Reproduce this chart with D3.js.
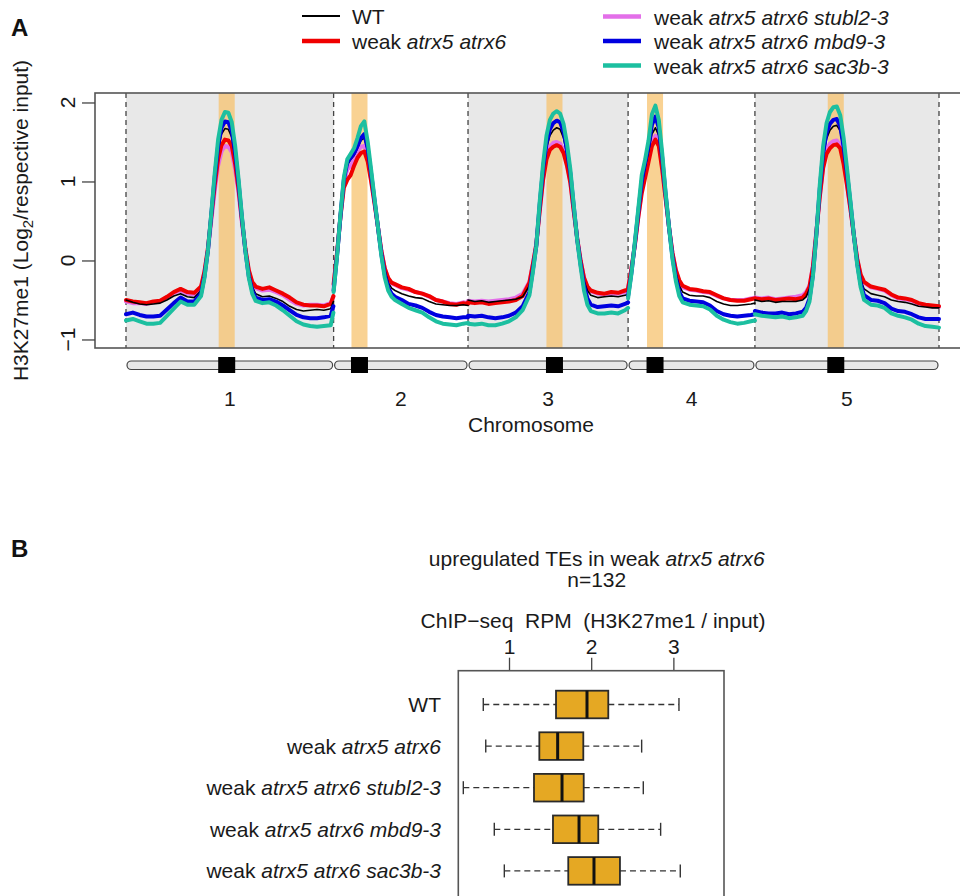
<!DOCTYPE html>
<html>
<head>
<meta charset="utf-8">
<script src="https://cdn.jsdelivr.net/npm/d3@7"></script>
<style>
  body { margin: 0; background: #fff; }
  svg { display: block; font-family: "Liberation Sans", Arial, Helvetica, sans-serif; }
</style>
</head>
<body>
<svg id="fig" width="960" height="896"></svg>
<script>
// ---------------- data: genome-wide H3K27me1 profile ----------------
const chromosomes = ["1", "2", "3", "4", "5"];
const chromLengthMb = [30.43, 19.70, 23.46, 18.59, 26.98];
const centromereMb = [14.76, 3.79, 12.67, 3.95, 11.85];
const yTicks = [-1, 0, 1, 2];

const seriesNames = [
  "WT",
  "weak atrx5 atrx6",
  "weak atrx5 atrx6 stubl2-3",
  "weak atrx5 atrx6 mbd9-3",
  "weak atrx5 atrx6 sac3b-3"
];

// window positions (Mb) per chromosome
const binMb = [
  [0,1,2,3,4,5,6,7,8,9,10,11,11.5,12,12.5,13,13.5,14,14.5,15,15.5,16,16.5,17,17.5,18,18.5,19,20,21,22,23,24,25,26,27,28,29,30,30.4],
  [0,0.5,1,1.5,2,2.5,3,3.5,4,4.5,5,5.5,6,6.5,7,7.5,8,8.5,9,10,11,12,13,14,15,16,17,18,19,19.7],
  [0,1,2,3,4,5,6,7,8,9,9.5,10,10.5,11,11.5,12,12.5,13,13.5,14,14.5,15,15.5,16,16.5,17,17.5,18,19,20,21,22,23,23.46],
  [0,0.5,1,1.5,2,2.5,3,3.5,4,4.5,5,5.5,6,6.5,7,7.5,8,9,10,11,12,13,14,15,16,17,18,18.59],
  [0,1,2,3,4,5,6,7,7.5,8,8.5,9,9.5,10,10.5,11,11.5,12,12.5,13,13.5,14,14.5,15,15.5,16,17,18,19,20,21,22,23,24,25,26,26.98]
];

// log2(H3K27me1 / input) per window, one list per chromosome
const wtValues = [
  [-0.50,-0.53,-0.55,-0.56,-0.55,-0.54,-0.50,-0.45,-0.42,-0.46,-0.47,-0.38,-0.16,0.14,0.58,1.02,1.40,1.60,1.67,1.66,1.56,1.30,0.95,0.52,0.14,-0.16,-0.33,-0.42,-0.46,-0.45,-0.48,-0.52,-0.58,-0.62,-0.64,-0.63,-0.62,-0.63,-0.61,-0.52],
  [-0.35,0.08,0.55,1.00,1.20,1.28,1.33,1.42,1.52,1.55,1.38,1.08,0.76,0.44,0.12,-0.12,-0.28,-0.35,-0.38,-0.42,-0.45,-0.47,-0.48,-0.52,-0.55,-0.56,-0.57,-0.57,-0.56,-0.57],
  [-0.50,-0.52,-0.51,-0.53,-0.52,-0.51,-0.50,-0.49,-0.46,-0.32,-0.08,0.20,0.70,1.12,1.42,1.58,1.65,1.68,1.66,1.55,1.34,1.07,0.66,0.28,-0.02,-0.26,-0.38,-0.44,-0.47,-0.46,-0.45,-0.46,-0.44,-0.43],
  [-0.40,-0.12,0.20,0.58,0.95,1.18,1.38,1.60,1.68,1.58,1.24,0.82,0.42,0.08,-0.16,-0.32,-0.40,-0.44,-0.45,-0.45,-0.47,-0.52,-0.55,-0.57,-0.57,-0.56,-0.55,-0.54],
  [-0.50,-0.52,-0.51,-0.53,-0.52,-0.52,-0.52,-0.50,-0.46,-0.36,-0.10,0.36,0.88,1.30,1.54,1.65,1.70,1.71,1.64,1.40,1.08,0.72,0.34,0.00,-0.24,-0.36,-0.42,-0.44,-0.46,-0.50,-0.52,-0.53,-0.55,-0.58,-0.59,-0.60,-0.60]
];
const atrxValues = [
  [-0.50,-0.52,-0.53,-0.54,-0.52,-0.51,-0.46,-0.40,-0.36,-0.40,-0.41,-0.33,-0.14,0.15,0.55,0.95,1.28,1.46,1.53,1.52,1.45,1.22,0.90,0.50,0.15,-0.12,-0.27,-0.33,-0.36,-0.34,-0.38,-0.42,-0.47,-0.53,-0.56,-0.57,-0.57,-0.58,-0.55,-0.45],
  [-0.30,0.10,0.55,0.92,1.02,1.08,1.20,1.30,1.36,1.38,1.25,1.00,0.72,0.42,0.12,-0.10,-0.22,-0.28,-0.30,-0.34,-0.36,-0.40,-0.42,-0.45,-0.50,-0.52,-0.55,-0.56,-0.54,-0.55],
  [-0.53,-0.54,-0.53,-0.55,-0.54,-0.53,-0.52,-0.50,-0.45,-0.28,-0.05,0.20,0.62,1.02,1.28,1.40,1.44,1.46,1.44,1.36,1.20,0.98,0.62,0.28,0.00,-0.22,-0.33,-0.38,-0.41,-0.42,-0.40,-0.41,-0.38,-0.37],
  [-0.35,-0.10,0.20,0.55,0.85,1.05,1.25,1.45,1.53,1.45,1.15,0.78,0.42,0.10,-0.12,-0.25,-0.32,-0.36,-0.37,-0.39,-0.40,-0.44,-0.48,-0.50,-0.51,-0.51,-0.49,-0.48],
  [-0.48,-0.49,-0.48,-0.50,-0.49,-0.48,-0.49,-0.47,-0.42,-0.33,-0.08,0.35,0.80,1.17,1.35,1.42,1.46,1.47,1.42,1.22,0.95,0.65,0.32,0.02,-0.18,-0.27,-0.33,-0.35,-0.37,-0.43,-0.47,-0.48,-0.50,-0.54,-0.56,-0.57,-0.58]
];
const stublValues = [
  [-0.52,-0.54,-0.54,-0.55,-0.53,-0.52,-0.47,-0.41,-0.38,-0.42,-0.43,-0.35,-0.15,0.12,0.50,0.88,1.20,1.38,1.45,1.44,1.37,1.15,0.85,0.47,0.13,-0.14,-0.29,-0.35,-0.38,-0.37,-0.40,-0.44,-0.50,-0.55,-0.57,-0.56,-0.56,-0.57,-0.54,-0.46],
  [-0.32,0.08,0.55,0.98,1.15,1.20,1.28,1.38,1.44,1.45,1.30,1.03,0.74,0.43,0.12,-0.10,-0.23,-0.29,-0.31,-0.35,-0.37,-0.40,-0.42,-0.46,-0.50,-0.52,-0.54,-0.55,-0.53,-0.54],
  [-0.51,-0.52,-0.51,-0.52,-0.51,-0.50,-0.49,-0.47,-0.42,-0.27,-0.05,0.20,0.64,1.05,1.32,1.44,1.49,1.50,1.48,1.40,1.23,1.00,0.63,0.28,0.00,-0.22,-0.34,-0.39,-0.42,-0.43,-0.42,-0.42,-0.40,-0.39],
  [-0.36,-0.10,0.20,0.56,0.90,1.10,1.30,1.50,1.58,1.50,1.18,0.80,0.42,0.09,-0.13,-0.27,-0.34,-0.37,-0.38,-0.40,-0.41,-0.45,-0.48,-0.50,-0.50,-0.50,-0.48,-0.47],
  [-0.47,-0.48,-0.47,-0.49,-0.48,-0.47,-0.46,-0.44,-0.40,-0.32,-0.07,0.36,0.82,1.20,1.40,1.48,1.51,1.52,1.46,1.26,0.97,0.66,0.32,0.01,-0.19,-0.28,-0.34,-0.36,-0.38,-0.44,-0.48,-0.49,-0.51,-0.55,-0.57,-0.58,-0.59]
];
const mbdValues = [
  [-0.68,-0.66,-0.69,-0.71,-0.71,-0.70,-0.62,-0.54,-0.47,-0.52,-0.52,-0.42,-0.20,0.12,0.58,1.05,1.45,1.68,1.76,1.75,1.64,1.36,0.98,0.53,0.12,-0.20,-0.38,-0.47,-0.50,-0.49,-0.52,-0.57,-0.63,-0.69,-0.72,-0.73,-0.73,-0.72,-0.70,-0.58],
  [-0.38,0.06,0.56,1.02,1.24,1.30,1.36,1.45,1.55,1.60,1.42,1.10,0.76,0.42,0.08,-0.18,-0.34,-0.42,-0.46,-0.50,-0.55,-0.57,-0.60,-0.65,-0.69,-0.71,-0.72,-0.73,-0.72,-0.72],
  [-0.70,-0.71,-0.70,-0.72,-0.73,-0.72,-0.70,-0.66,-0.58,-0.40,-0.12,0.18,0.70,1.16,1.48,1.66,1.74,1.77,1.75,1.63,1.40,1.10,0.68,0.27,-0.05,-0.32,-0.48,-0.56,-0.59,-0.58,-0.57,-0.58,-0.55,-0.53],
  [-0.45,-0.15,0.22,0.62,1.00,1.24,1.45,1.72,1.82,1.68,1.30,0.84,0.42,0.05,-0.22,-0.40,-0.48,-0.51,-0.52,-0.53,-0.57,-0.64,-0.68,-0.70,-0.71,-0.70,-0.69,-0.68],
  [-0.64,-0.66,-0.67,-0.67,-0.66,-0.68,-0.67,-0.65,-0.60,-0.48,-0.18,0.32,0.90,1.36,1.62,1.73,1.78,1.79,1.70,1.44,1.10,0.72,0.32,-0.04,-0.30,-0.44,-0.50,-0.51,-0.54,-0.61,-0.64,-0.65,-0.68,-0.72,-0.74,-0.74,-0.74]
];
const sacValues = [
  [-0.76,-0.74,-0.77,-0.80,-0.80,-0.79,-0.70,-0.61,-0.52,-0.56,-0.56,-0.45,-0.22,0.12,0.60,1.10,1.53,1.78,1.88,1.87,1.75,1.45,1.03,0.55,0.12,-0.22,-0.42,-0.51,-0.54,-0.53,-0.57,-0.63,-0.70,-0.77,-0.81,-0.83,-0.84,-0.83,-0.82,-0.66],
  [-0.40,0.05,0.58,1.05,1.28,1.35,1.42,1.55,1.70,1.76,1.50,1.15,0.78,0.42,0.06,-0.22,-0.38,-0.46,-0.50,-0.55,-0.60,-0.63,-0.66,-0.72,-0.77,-0.80,-0.81,-0.82,-0.80,-0.79],
  [-0.80,-0.81,-0.80,-0.82,-0.82,-0.80,-0.77,-0.72,-0.63,-0.44,-0.15,0.18,0.74,1.22,1.58,1.78,1.86,1.89,1.86,1.73,1.48,1.15,0.70,0.26,-0.08,-0.38,-0.56,-0.64,-0.67,-0.67,-0.66,-0.67,-0.63,-0.60],
  [-0.48,-0.16,0.24,0.66,1.08,1.28,1.52,1.85,1.96,1.78,1.36,0.86,0.42,0.02,-0.26,-0.45,-0.53,-0.56,-0.57,-0.58,-0.62,-0.70,-0.75,-0.78,-0.80,-0.79,-0.77,-0.76],
  [-0.68,-0.70,-0.71,-0.72,-0.71,-0.73,-0.72,-0.70,-0.64,-0.52,-0.20,0.32,0.95,1.45,1.74,1.88,1.94,1.95,1.84,1.55,1.16,0.75,0.32,-0.06,-0.34,-0.50,-0.56,-0.57,-0.60,-0.67,-0.70,-0.72,-0.75,-0.80,-0.83,-0.84,-0.85]
];

// ---------------- data: box plot of upregulated TEs ----------------
const boxGroups = seriesNames;
const boxLow    = [0.687, 0.717, 0.444, 0.821, 0.943];
const boxQ1     = [1.572, 1.369, 1.304, 1.535, 1.721];
const boxMedian = [1.949, 1.592, 1.645, 1.852, 2.034];
const boxQ3     = [2.208, 1.904, 1.909, 2.086, 2.350];
const boxHigh   = [3.068, 2.614, 2.634, 2.845, 3.084];
const boxTicks  = [1, 2, 3];

// ---------------- styles ----------------
const seriesColors = ["#000000", "#F00000", "#E36FE9", "#0000E0", "#1CBFA0"];
const seriesWidths = [1.6, 4, 4, 4, 4];
const legendWidths = [2, 4.5, 4.5, 4.5, 4.5];
const drawOrder = [2, 1, 0, 3, 4];
const allValues = [wtValues, atrxValues, stublValues, mbdValues, sacValues];
const FONT = 21;
const INK = "#1a1a1a";

const svg = d3.select("#fig");
svg.append("rect").attr("width", 960).attr("height", 896).attr("fill", "#fff");

// rich label: plain "weak" followed by italic genotype
function labelParts(name) {
  if (name.startsWith("weak ")) return [["weak ", false], [name.slice(5), true]];
  return [[name, false]];
}
function richText(sel, name) {
  labelParts(name).forEach(([t, it]) => {
    sel.append("tspan").text(t).attr("font-style", it ? "italic" : "normal");
  });
  return sel;
}

// ================= Panel A =================
const frameA = { left: 95, right: 972, top: 93, bottom: 348 };
const chromStart = chromLengthMb.map((d, i) => d3.sum(chromLengthMb.slice(0, i)));
const genomeLen = d3.sum(chromLengthMb);

const x = d3.scaleLinear().domain([0, genomeLen]).range([126, 939]);
const y = d3.scaleLinear().domain([-1.108, 2.12]).range([frameA.bottom, frameA.top]);

const gA = svg.append("g");

// shaded background for odd chromosomes
chromosomes.forEach((c, i) => {
  if (i % 2 === 0) {
    gA.append("rect")
      .attr("x", x(chromStart[i])).attr("y", frameA.top)
      .attr("width", x(chromStart[i] + chromLengthMb[i]) - x(chromStart[i]))
      .attr("height", frameA.bottom - frameA.top)
      .attr("fill", "#E8E8E8");
  }
});

// pericentromeric bands
const bandMb = 2.35;
chromosomes.forEach((c, i) => {
  const cx = chromStart[i] + centromereMb[i];
  gA.append("rect")
    .attr("x", x(cx - bandMb / 2)).attr("y", frameA.top)
    .attr("width", x(bandMb) - x(0))
    .attr("height", frameA.bottom - frameA.top)
    .attr("fill", "#F6C06A").attr("fill-opacity", 0.72);
});

// chromosome boundaries
const boundaries = [0].concat(chromLengthMb.map((d, i) => chromStart[i] + d));
gA.selectAll("line.bound").data(boundaries).enter().append("line")
  .attr("x1", d => x(d)).attr("x2", d => x(d))
  .attr("y1", frameA.top).attr("y2", frameA.bottom)
  .attr("stroke", "#444").attr("stroke-width", 1.3)
  .attr("stroke-dasharray", "5,4");

// profile lines
const line = d3.line()
  .x(d => x(d[0])).y(d => y(d[1]))
  .curve(d3.curveLinear);

drawOrder.forEach(s => {
  chromosomes.forEach((c, i) => {
    const pts = binMb[i].map((p, k) => [chromStart[i] + p, allValues[s][i][k]]);
    gA.append("path")
      .attr("d", line(pts))
      .attr("fill", "none")
      .attr("stroke", seriesColors[s])
      .attr("stroke-width", seriesWidths[s])
      .attr("stroke-linejoin", "round")
      .attr("stroke-linecap", "round");
  });
});

// frame
gA.append("rect")
  .attr("x", frameA.left).attr("y", frameA.top)
  .attr("width", frameA.right - frameA.left).attr("height", frameA.bottom - frameA.top)
  .attr("fill", "none").attr("stroke", "#555").attr("stroke-width", 1.6);

// y axis
const yAxis = d3.axisLeft(y).tickValues(yTicks).tickSize(13).tickFormat("");
const gy = gA.append("g").attr("transform", `translate(${frameA.left},0)`).call(yAxis);
gy.select(".domain").remove();
gy.selectAll(".tick line").attr("stroke", "#444").attr("stroke-width", 1.3);
gA.selectAll("text.ytick").data(yTicks).enter().append("text")
  .attr("transform", d => `translate(75,${y(d)}) rotate(-90)`)
  .attr("text-anchor", "middle")
  .attr("font-size", FONT).attr("fill", INK)
  .text(d => d < 0 ? "\u2212" + Math.abs(d) : d);

// y axis title with subscript
const yt = gA.append("text")
  .attr("transform", `translate(27.5,${(frameA.top + frameA.bottom) / 2}) rotate(-90)`)
  .attr("text-anchor", "middle")
  .attr("font-size", FONT).attr("fill", INK);
yt.append("tspan").text("H3K27me1 (Log");
yt.append("tspan").text("2").attr("font-size", 15).attr("dy", 5);
yt.append("tspan").text("/respective input)").attr("dy", -5);

// chromosome ideograms
const gI = gA.append("g");
chromosomes.forEach((c, i) => {
  const x0 = x(chromStart[i]) + 1, x1 = x(chromStart[i] + chromLengthMb[i]) - 1;
  gI.append("rect")
    .attr("x", x0).attr("y", 361).attr("width", x1 - x0).attr("height", 8.5)
    .attr("rx", 4.25).attr("ry", 4.25)
    .attr("fill", "#E8E8E8").attr("stroke", "#444").attr("stroke-width", 1.2);
  gI.append("rect")
    .attr("x", x(chromStart[i] + centromereMb[i]) - 8.5).attr("y", 357)
    .attr("width", 17).attr("height", 16)
    .attr("fill", "#000");
});

// chromosome labels
gA.selectAll("text.chr").data(chromosomes).enter().append("text")
  .attr("x", (d, i) => x(chromStart[i] + chromLengthMb[i] / 2))
  .attr("y", 405.5)
  .attr("text-anchor", "middle")
  .attr("font-size", FONT).attr("fill", INK)
  .text(d => d);
gA.append("text")
  .attr("x", 531).attr("y", 432)
  .attr("text-anchor", "middle")
  .attr("font-size", FONT).attr("fill", INK)
  .text("Chromosome");

// legend
const legendSlots = [
  { lx: 302, tx: 352, y: 16 },
  { lx: 302, tx: 352, y: 41 },
  { lx: 603, tx: 654, y: 16.5 },
  { lx: 603, tx: 654, y: 41 },
  { lx: 603, tx: 654, y: 65.5 }
];
seriesNames.forEach((name, s) => {
  const p = legendSlots[s];
  gA.append("line")
    .attr("x1", p.lx).attr("x2", p.lx + 38)
    .attr("y1", p.y).attr("y2", p.y)
    .attr("stroke", seriesColors[s]).attr("stroke-width", legendWidths[s]);
  richText(gA.append("text")
    .attr("x", p.tx).attr("y", p.y + 8)
    .attr("font-size", FONT).attr("fill", INK), name);
});

// panel letters
svg.append("text").attr("x", 11).attr("y", 36).attr("font-size", 24)
  .attr("font-weight", "bold").attr("fill", "#111").text("A");
svg.append("text").attr("x", 11).attr("y", 557).attr("font-size", 24)
  .attr("font-weight", "bold").attr("fill", "#111").text("B");

// ================= Panel B =================
const frameB = { left: 458.3, right: 724, top: 670.7, bottom: 910 };
const xb = d3.scaleLinear().domain([0.383, 3.616]).range([frameB.left, frameB.right]);
const yb = d3.scalePoint().domain(boxGroups).range([704.5, 704.5 + 41.6 * 4]);
const boxH = 27.6, stapleH = 13;

const gB = svg.append("g");

gB.append("text").attr("x", 596.7).attr("y", 565.5).attr("text-anchor", "middle")
  .attr("font-size", FONT).attr("fill", INK)
  .call(t => { t.append("tspan").text("upregulated TEs in weak ");
               t.append("tspan").attr("font-style", "italic").text("atrx5 atrx6"); });
gB.append("text").attr("x", 596.7).attr("y", 587).attr("text-anchor", "middle")
  .attr("font-size", FONT).attr("fill", INK).text("n=132");
gB.append("text").attr("x", 593).attr("y", 628).attr("text-anchor", "middle")
  .attr("font-size", FONT).attr("fill", INK)
  .style("white-space", "pre")
  .text("ChIP\u2212seq  RPM  (H3K27me1 / input)");

// top axis
const xAxisB = d3.axisTop(xb).tickValues(boxTicks).tickSize(13).tickPadding(4).tickFormat(d3.format("d"));
const gx = gB.append("g").attr("transform", `translate(0,${frameB.top})`).call(xAxisB);
gx.select(".domain").remove();
gx.selectAll(".tick line").attr("stroke", "#444").attr("stroke-width", 1.3);
gx.selectAll(".tick text").attr("font-size", FONT).attr("fill", INK)
  .attr("font-family", "'Liberation Sans', Arial, sans-serif");

// boxes
boxGroups.forEach((g, i) => {
  const cy = yb(g);
  const dash = "6,4";
  gB.append("line").attr("x1", xb(boxLow[i])).attr("x2", xb(boxQ1[i]))
    .attr("y1", cy).attr("y2", cy)
    .attr("stroke", "#333").attr("stroke-width", 1.3).attr("stroke-dasharray", dash);
  gB.append("line").attr("x1", xb(boxQ3[i])).attr("x2", xb(boxHigh[i]))
    .attr("y1", cy).attr("y2", cy)
    .attr("stroke", "#333").attr("stroke-width", 1.3).attr("stroke-dasharray", dash);
  [boxLow[i], boxHigh[i]].forEach(v => {
    gB.append("line").attr("x1", xb(v)).attr("x2", xb(v))
      .attr("y1", cy - stapleH / 2).attr("y2", cy + stapleH / 2)
      .attr("stroke", "#333").attr("stroke-width", 1.4);
  });
  gB.append("rect")
    .attr("x", xb(boxQ1[i])).attr("y", cy - boxH / 2)
    .attr("width", xb(boxQ3[i]) - xb(boxQ1[i])).attr("height", boxH)
    .attr("fill", "#E5A823").attr("stroke", "#2a2a2a").attr("stroke-width", 1.8);
  gB.append("line").attr("x1", xb(boxMedian[i])).attr("x2", xb(boxMedian[i]))
    .attr("y1", cy - boxH / 2).attr("y2", cy + boxH / 2)
    .attr("stroke", "#111").attr("stroke-width", 3);
  richText(gB.append("text")
    .attr("x", 441).attr("y", cy + 7.5)
    .attr("text-anchor", "end")
    .attr("font-size", FONT).attr("fill", INK), g);
});

// frame
gB.append("rect")
  .attr("x", frameB.left).attr("y", frameB.top)
  .attr("width", frameB.right - frameB.left).attr("height", frameB.bottom - frameB.top)
  .attr("fill", "none").attr("stroke", "#555").attr("stroke-width", 1.6);
</script>
</body>
</html>
